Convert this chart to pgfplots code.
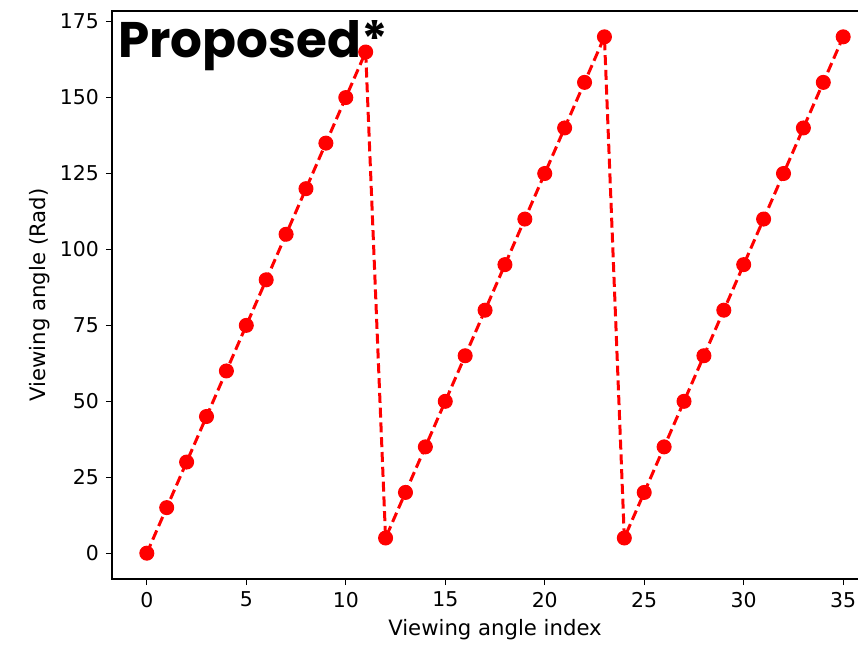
\documentclass[border=0pt]{standalone}
\usepackage{pgfplots}
\pgfplotsset{compat=1.18}
\usepackage{fontspec}
\setmainfont{DejaVu Sans}
\newfontfamily\titlefont{Poppins}
\pgfplotstableread{
x y
0 0
1 15
2 30
3 45
4 60
5 75
6 90
7 105
8 120
9 135
10 150
11 165
12 5
13 20
14 35
15 50
16 65
17 80
18 95
19 110
20 125
21 140
22 155
23 170
24 5
25 20
26 35
27 50
28 65
29 80
30 95
31 110
32 125
33 140
34 155
35 170
}\data
\begin{document}
\begin{tikzpicture}
\begin{axis}[
  scale only axis,
  width=383pt, height=284pt,
  xmin=-1.75, xmax=36.75,
  ymin=-8.5, ymax=178.5,
  xtick={0,5,...,35},
  ytick={0,25,...,175},
  tick align=outside,
  tick pos=left,
  major tick length=3pt,
  every tick/.style={black, line width=0.5pt},
  axis line style={line width=0.6pt},
  /pgf/number format/assume math mode=true,
  tick label style={font=\fontsize{10.2}{12}\selectfont},
  label style={font=\fontsize{10.6}{12}\selectfont},
  xlabel={Viewing angle index},
  ylabel={Viewing angle (Rad)},
  xlabel style={yshift=1pt},
  ylabel style={yshift=-2pt},
  clip=false,
]
\addplot[red, line width=1.5pt, dash pattern=on 5pt off 2.4pt, mark=*, mark size=3.5pt, mark options={solid, fill=red, draw=red, line width=0.5pt}] table[x=x,y=y] {\data};
\coordinate (sw) at (rel axis cs:0,0);
\node[anchor=base west, inner sep=0pt, font=\titlefont\bfseries\fontsize{25}{28}\selectfont] at (rel axis cs:0,1) [xshift=3pt, yshift=-23pt] {Proposed*};
\end{axis}
\pgfresetboundingbox
\path[use as bounding box] ([shift={(-56pt,-35.5pt)}]sw) rectangle ([shift={(373pt,289.5pt)}]sw);
\end{tikzpicture}
\end{document}
